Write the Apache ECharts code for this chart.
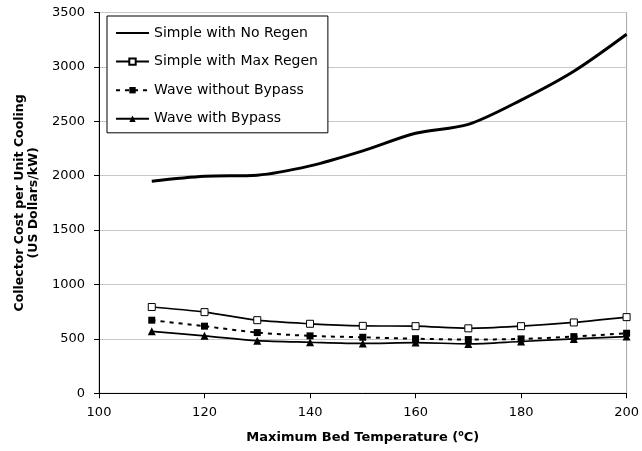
<!DOCTYPE html>
<html>
<head>
<meta charset="utf-8">
<script src="https://cdn.jsdelivr.net/npm/echarts@6/dist/echarts.min.js"></script>
<style>html,body{margin:0;padding:0;background:#fff}#c{width:642px;height:451px}</style>
</head>
<body>
<div id="c"></div>
<script>
var temps = [110, 120, 130, 140, 150, 160, 170, 180, 190, 200];
var simpleNoRegen = [1950, 1995, 2005, 2090, 2228, 2390, 2472, 2695, 2960, 3300];
var simpleMaxRegen = [793, 746, 672, 639, 620, 617, 597, 617, 651, 700];
var waveWithoutBypass = [672, 617, 558, 528, 515, 502, 494, 500, 521, 552];
var waveWithBypass = [570, 528, 484, 469, 458, 466, 454, 476, 500, 521];
var seriesNames = ['Simple with No Regen', 'Simple with Max Regen', 'Wave without Bypass', 'Wave with Bypass'];

function pairs(v) { return temps.map(function (t, i) { return [t, v[i]]; }); }

var chart = echarts.init(document.getElementById('c'));
var font = 'DejaVu Sans';
chart.setOption({
  animation: false,
  backgroundColor: '#fff',
  grid: { left: 99, right: 13, top: 12.5, bottom: 57.7, show: true, borderColor: '#a6a6a6', borderWidth: 1, backgroundColor: 'transparent' },
  legend: {
    orient: 'vertical', left: 107, top: 16,
    padding: [10, 10, 7, 8], itemGap: 14.6, itemWidth: 33, itemHeight: 8,
    borderColor: '#000', borderWidth: 1, backgroundColor: '#fff',
    textStyle: { fontFamily: font, fontSize: 14, color: '#000' },
    data: [
      { name: seriesNames[0], itemStyle: { opacity: 0 } },
      seriesNames[1], seriesNames[2], seriesNames[3]
    ]
  },
  xAxis: {
    type: 'value', min: 100, max: 200, interval: 20,
    name: 'Maximum Bed Temperature ({s|o}C)', nameLocation: 'middle', nameGap: 37,
    nameTextStyle: { fontFamily: font, fontSize: 13, fontWeight: 'bold', color: '#000',
      rich: { s: { fontFamily: font, fontSize: 8, fontWeight: 'bold', color: '#000', verticalAlign: 'top', padding: [0, 0, 6, 0] } } },
    axisLine: { lineStyle: { color: '#000', width: 1 } },
    axisTick: { length: 5, lineStyle: { color: '#000' } },
    axisLabel: { fontFamily: font, fontSize: 13, color: '#000', margin: 13 },
    splitLine: { show: false }
  },
  yAxis: {
    type: 'value', min: 0, max: 3500, interval: 500,
    name: 'Collector Cost per Unit Cooling\n(US Dollars/kW)', nameLocation: 'middle', nameRotate: 90, nameGap: 49,
    nameTextStyle: { fontFamily: font, fontSize: 12.5, fontWeight: 'bold', color: '#000', lineHeight: 14.3, align: 'center' },
    axisLine: { show: true, lineStyle: { color: '#000', width: 1 } },
    axisTick: { show: true, length: 5, lineStyle: { color: '#000' } },
    axisLabel: { fontFamily: font, fontSize: 13, color: '#000', margin: 14, formatter: function (v) { return String(v); } },
    splitLine: { lineStyle: { color: '#c8c8c8', width: 1 } }
  },
  series: [
    { name: seriesNames[0], type: 'line', data: pairs(simpleNoRegen), smooth: 0.3, symbol: 'none',
      lineStyle: { color: '#000', width: 3 }, itemStyle: { color: '#000' } },
    { name: seriesNames[1], type: 'line', data: pairs(simpleMaxRegen), smooth: 0.3, symbol: 'rect', symbolSize: 7,
      lineStyle: { color: '#000', width: 1.7 }, itemStyle: { color: '#fff', borderColor: '#000', borderWidth: 1 } },
    { name: seriesNames[2], type: 'line', data: pairs(waveWithoutBypass), smooth: 0.3, symbol: 'rect', symbolSize: 7,
      lineStyle: { color: '#000', width: 2, type: [4, 5] }, itemStyle: { color: '#000' } },
    { name: seriesNames[3], type: 'line', data: pairs(waveWithBypass), smooth: 0.3, symbol: 'triangle', symbolSize: 8,
      lineStyle: { color: '#000', width: 1.7 }, itemStyle: { color: '#000' } }
  ]
});
</script>
</body>
</html>
